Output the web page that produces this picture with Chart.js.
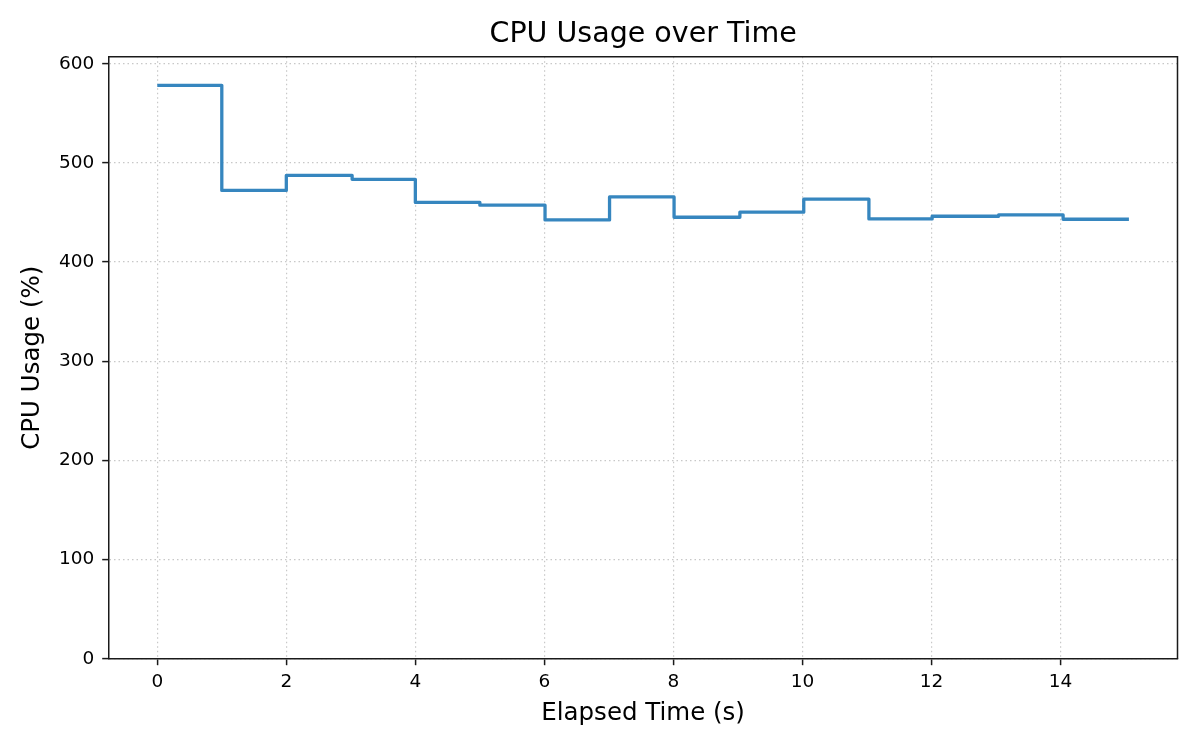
<!DOCTYPE html>
<html lang="en">
<head>
    <meta charset="UTF-8">
    <title>CPU Usage over Time</title>
    <script src="https://cdn.jsdelivr.net/npm/chart.js"></script>
    <style>
        html, body {
            margin: 0;
            padding: 0;
            background: #ffffff;
        }

        .chart-container {
            width: 1200px;
            height: 750px;
        }
    </style>
</head>
<body>
    <div class="chart-container">
        <canvas id="cpu-chart"></canvas>
    </div>

    <script>
        // Sample times (s) and CPU usage (%)
        const elapsedTime = [0, 1.0, 2.0, 3.02, 4.0, 5.0, 6.01, 7.01, 8.01, 9.03, 10.02, 11.03, 12.01, 13.04, 14.04, 15.06];
        const cpuUsage = [578.2, 472.2, 487.4, 483.4, 460.1, 457.4, 442.5, 465.7, 445.2, 450.3, 463.4, 443.5, 446.2, 447.5, 443.2, 443.2];

        // Tick labels
        const xTicks = [0, 2, 4, 6, 8, 10, 12, 14];
        const yTicks = [0, 100, 200, 300, 400, 500, 600];

        const FONT = "'DejaVu Sans', sans-serif";
        const tickFont = { family: FONT, size: 18.5 };

        // axis limits like matplotlib: 5% margin on x, y from 0 to max * 1.05
        const xSpan = elapsedTime[elapsedTime.length - 1] - elapsedTime[0];
        const xMin = elapsedTime[0] - 0.05 * xSpan;
        const xMax = elapsedTime[elapsedTime.length - 1] + 0.05 * xSpan;
        const yMax = Math.max(...cpuUsage) * 1.05;

        // top and right spines (Chart.js only draws the left/bottom borders)
        const framePlugin = {
            id: 'frame',
            afterDraw(chart) {
                const { ctx, chartArea: a } = chart;
                ctx.save();
                ctx.strokeStyle = '#1a1a1a';
                ctx.lineWidth = 1.5;
                ctx.beginPath();
                ctx.moveTo(a.left, a.top);
                ctx.lineTo(a.right, a.top);
                ctx.lineTo(a.right, a.bottom);
                ctx.stroke();
                ctx.restore();
            }
        };

        const ctx = document.getElementById('cpu-chart').getContext('2d');
        new Chart(ctx, {
            type: 'line',
            data: {
                datasets: [{
                    label: 'CPU Usage',
                    data: elapsedTime.map((t, i) => ({ x: t, y: cpuUsage[i] })),
                    borderColor: '#3686bf',
                    borderWidth: 3.3,
                    borderJoinStyle: 'round',
                    stepped: true,
                    pointRadius: 0,
                    fill: false
                }]
            },
            options: {
                responsive: true,
                maintainAspectRatio: false,
                animation: false,
                layout: {
                    padding: { left: 0, right: 22.5, top: 0, bottom: 0 }
                },
                plugins: {
                    legend: { display: false },
                    tooltip: { enabled: false },
                    title: {
                        display: true,
                        fullSize: false, // center over the plot area, not the canvas
                        text: 'CPU Usage over Time',
                        color: '#000',
                        font: { family: FONT, size: 28.5, weight: 'normal' },
                        padding: { top: 17.5, bottom: 5 }
                    }
                },
                scales: {
                    x: {
                        type: 'linear',
                        min: xMin,
                        max: xMax,
                        afterBuildTicks: (scale) => {
                            scale.ticks = xTicks.map(v => ({ value: v }));
                        },
                        afterFit: (scale) => {
                            scale.height = 91.3;
                        },
                        ticks: {
                            color: '#000',
                            font: tickFont,
                            padding: 6,
                            maxRotation: 0
                        },
                        grid: {
                            color: '#c8c8c8',
                            lineWidth: 1.2,
                            tickLength: 6.5,
                            tickColor: '#1a1a1a',
                            tickWidth: 1.5,
                            tickBorderDash: []
                        },
                        border: {
                            display: true,
                            color: '#1a1a1a',
                            width: 1.5,
                            dash: [1.5, 3]
                        },
                        title: {
                            display: true,
                            text: 'Elapsed Time (s)',
                            color: '#000',
                            font: { family: FONT, size: 24.5 },
                            padding: { top: 0, bottom: 22 }
                        }
                    },
                    y: {
                        min: 0,
                        max: yMax,
                        afterBuildTicks: (scale) => {
                            scale.ticks = yTicks.map(v => ({ value: v }));
                        },
                        afterFit: (scale) => {
                            scale.width = 108.7;
                        },
                        ticks: {
                            color: '#000',
                            font: tickFont,
                            padding: 8
                        },
                        grid: {
                            color: '#c8c8c8',
                            lineWidth: 1.2,
                            tickLength: 6.5,
                            tickColor: '#1a1a1a',
                            tickWidth: 1.5,
                            tickBorderDash: []
                        },
                        border: {
                            display: true,
                            color: '#1a1a1a',
                            width: 1.5,
                            dash: [1.5, 3]
                        },
                        title: {
                            display: true,
                            text: 'CPU Usage (%)',
                            color: '#000',
                            font: { family: FONT, size: 24.5 },
                            padding: { top: 18, bottom: 0 }
                        }
                    }
                }
            },
            plugins: [framePlugin]
        });
    </script>
</body>
</html>
